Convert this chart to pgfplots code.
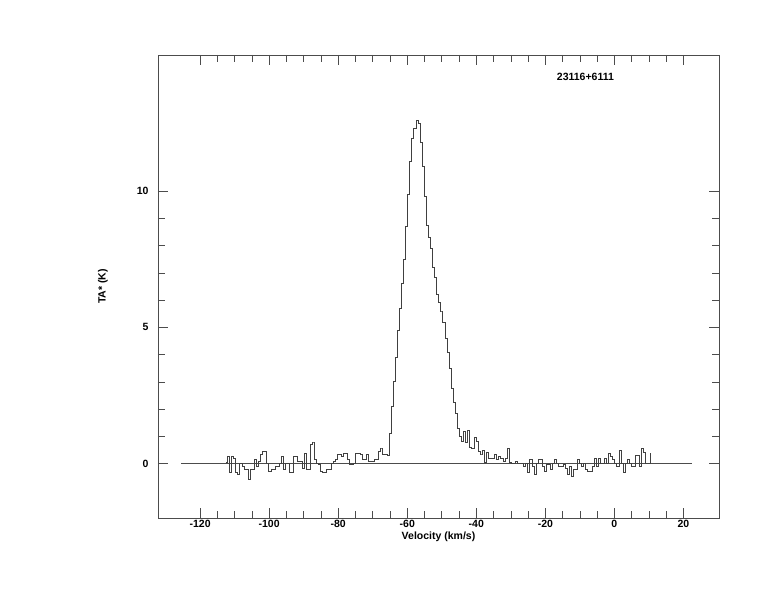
\documentclass[border=0pt]{standalone}
\usepackage{pgfplots}
\pgfplotsset{compat=1.18}
\usepackage{fontspec}
\setmainfont{Liberation Sans}
\usetikzlibrary{calc}
\begin{document}
\begin{tikzpicture}
\begin{axis}[
  scale only axis, width=561pt, height=463pt,
  xmin=-132.2, xmax=30.3, ymin=-2, ymax=15,
  xtick={-120,-100,...,20}, minor x tick num=3,
  ytick={0,5,10}, minor y tick num=4,
  tick align=inside, major tick length=10pt, minor tick length=7pt,
  axis line style={black!70, line width=0.7pt},
  every tick/.style={black!70, line width=0.6pt},
  xtick pos=both, ytick pos=both,
  ticklabel pos=lower,
  /pgf/number format/assume math mode=true,
  ticklabel style={font=\bfseries\fontsize{10.5}{12}\selectfont},
  xticklabel style={yshift=1pt},
  yticklabel style={xshift=-6pt},
  xlabel={Velocity (km/s)}, ylabel={TA* (K)},
  every axis x label/.style={at={(axis description cs:0.5,-0.04)}, anchor=center, font=\bfseries\fontsize{10.5}{12}\selectfont},
  every axis y label/.style={at={(axis description cs:-0.098,0.5)}, anchor=center, rotate=90, font=\bfseries\fontsize{10.5}{12}\selectfont},
  clip=false,
]
\coordinate (bl) at (rel axis cs:0,0);
\coordinate (tr) at (rel axis cs:1,1);
\addplot[black!70, line width=0.6pt] coordinates {(-125.5,0) (22.5,0)};
\addplot[const plot mark mid, black!75, line width=0.7pt] table {
x y
-112.4 0.05
-111.8 0.27
-111.2 -0.32
-110.6 0.27
-110.0 0.2
-109.4 -0.34
-108.8 -0.4
-108.2 0.02
-107.6 -0.1
-107.0 -0.22
-106.4 -0.22
-105.8 -0.58
-105.2 -0.22
-104.6 -0.22
-104.0 0.15
-103.4 -0.1
-102.8 0.08
-102.2 0.33
-101.6 0.45
-101.0 0.45
-100.4 0.02
-99.8 -0.28
-99.2 -0.22
-98.6 -0.22
-98.0 -0.1
-97.4 -0.1
-96.8 0.02
-96.2 0.27
-95.6 -0.22
-95.0 0.02
-94.4 0.02
-93.8 -0.34
-93.2 -0.34
-92.6 0.27
-92.0 0.27
-91.4 0.08
-90.8 0.08
-90.2 -0.16
-89.6 0.39
-89.0 -0.22
-88.4 -0.22
-87.8 0.7
-87.2 0.79
-86.6 0.15
-86.0 0.02
-85.4 -0.04
-84.8 -0.28
-84.2 -0.34
-83.6 -0.34
-83.0 -0.22
-82.4 -0.22
-81.8 0.02
-81.2 0.08
-80.6 0.15
-80.0 0.33
-79.4 0.33
-78.8 0.27
-78.2 0.39
-77.6 0.39
-77.0 0.15
-76.4 -0.04
-75.8 -0.04
-75.2 0.02
-74.6 0.39
-74.0 0.39
-73.4 0.33
-72.8 0.15
-72.2 0.15
-71.6 0.33
-71.0 0.08
-70.4 0.08
-69.8 0.08
-69.2 0.15
-68.6 0.15
-68.0 0.45
-67.4 0.57
-66.8 0.33
-66.2 0.33
-65.6 0.3
-65.0 1.1
-64.4 2.1
-63.8 3.0
-63.2 3.9
-62.6 4.9
-62.0 5.7
-61.4 6.6
-60.8 7.5
-60.2 8.7
-59.6 9.9
-59.0 11.1
-58.4 11.95
-57.8 12.3
-57.2 12.6
-56.6 12.5
-56.0 11.8
-55.4 10.9
-54.8 9.8
-54.2 8.75
-53.6 8.3
-53.0 7.9
-52.4 7.2
-51.8 6.85
-51.2 6.2
-50.6 5.9
-50.0 5.6
-49.4 5.2
-48.8 4.6
-48.2 4.1
-47.6 3.5
-47.0 2.75
-46.4 2.25
-45.8 1.85
-45.2 1.3
-44.6 1.0
-44.0 0.82
-43.4 1.18
-42.8 0.77
-42.2 1.2
-41.6 0.6
-41.0 0.55
-40.4 0.95
-39.8 0.8
-39.2 0.45
-38.6 0.35
-38.0 0.5
-37.4 0.05
-36.8 0.4
-36.2 0.2
-35.6 0.2
-35.0 0.2
-34.4 0.33
-33.8 0.15
-33.2 0.27
-32.6 0.2
-32.0 0.08
-31.4 0.2
-30.8 0.55
-30.2 0.05
-29.6 0.02
-29.0 0.02
-28.4 0.08
-27.8 0.02
-27.2 0.02
-26.6 0.02
-26.0 -0.1
-25.4 0.02
-24.8 -0.34
-24.2 0.15
-23.6 -0.1
-23.0 -0.4
-22.4 0.02
-21.8 0.15
-21.2 0.15
-20.6 -0.1
-20.0 -0.28
-19.4 -0.04
-18.8 -0.04
-18.2 -0.22
-17.6 0.02
-17.0 0.15
-16.4 0.02
-15.8 -0.1
-15.2 -0.1
-14.6 -0.04
-14.0 -0.16
-13.4 -0.4
-12.8 -0.1
-12.2 -0.46
-11.6 -0.22
-11.0 -0.22
-10.4 0.15
-9.8 0.02
-9.2 -0.1
-8.6 0.02
-8.0 -0.22
-7.4 -0.28
-6.8 -0.28
-6.2 -0.1
-5.6 0.2
-5.0 -0.1
-4.4 0.2
-3.8 0.02
-3.2 0.02
-2.6 0.2
-2.0 0.02
-1.4 0.37
-0.8 0.27
-0.2 0.15
0.4 0.02
1.0 -0.1
1.6 0.5
2.2 0.02
2.8 -0.34
3.4 0.02
4.0 0.15
4.6 0.02
5.2 -0.1
5.8 -0.1
6.4 0.3
7.0 0.3
7.6 -0.1
8.2 0.55
8.8 0.4
9.4 0.02
10.0 0.02
10.6 0.37
};
\node[font=\bfseries\fontsize{10.5}{12}\selectfont] at (axis cs:-8.4,14.2) {23116+6111};
\end{axis}
\pgfresetboundingbox
\path[use as bounding box] ($(bl)+(-158pt,-94pt)$) rectangle ($(tr)+(55pt,55pt)$);
\end{tikzpicture}
\end{document}
